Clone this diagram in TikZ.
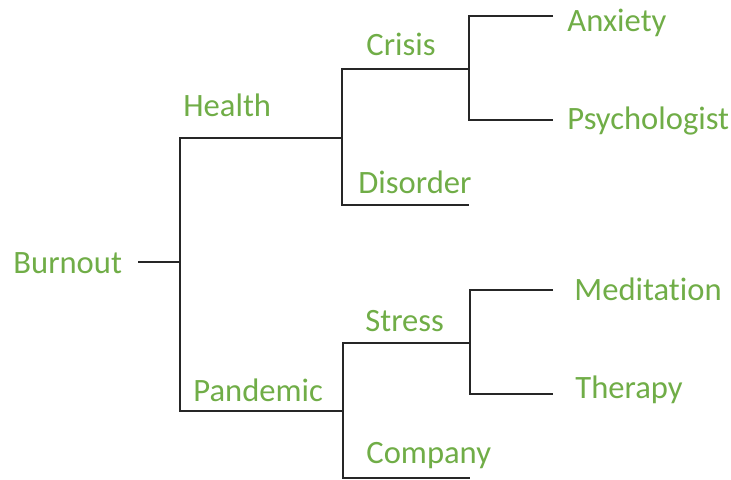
\documentclass[tikz,border=0pt]{standalone}
\usepackage{fontspec}
\setmainfont{Carlito}[Ligatures=NoCommon]
\definecolor{leafgreen}{RGB}{112,173,71}
\begin{document}
\begin{tikzpicture}[x=0.5pt, y=-0.5pt,
	word/.style = {anchor=base west, inner sep=0pt, text=leafgreen, font=\fontsize{16.3}{19}\selectfont},
	branch/.style = {draw=black!85, line width=0.7pt}]
	\useasboundingbox (0,0) rectangle (731,479);
	% words
	\node[word] (burnout) at (13,273) {Burnout};
	\node[word] (health) at (183,116) {Health};
	\node[word] (pandemic) at (193,401) {Pandemic};
	\node[word] (crisis) at (366,55) {Crisis};
	\node[word] (disorder) at (358,193) {Disorder};
	\node[word] (anxiety) at (567,31) {Anxiety};
	\node[word] (psychologist) at (567,129) {Psychologist};
	\node[word] (stress) at (365,331) {Stress};
	\node[word] (company) at (366,463) {Company};
	\node[word] (meditation) at (574,300) {Meditation};
	\node[word] (therapy) at (575,398) {Therapy};
	% line ends
	\coordinate (rootR) at (138,262);
	\coordinate (healthL) at (180,138);
	\coordinate (healthR) at (342,138);
	\coordinate (pandemicL) at (180,411);
	\coordinate (pandemicR) at (343,411);
	\coordinate (crisisL) at (342,69);
	\coordinate (crisisR) at (469,69);
	\coordinate (disorderL) at (342,205);
	\coordinate (disorderR) at (469,205);
	\coordinate (anxietyL) at (469,16);
	\coordinate (anxietyR) at (553,16);
	\coordinate (psychologistL) at (469,120);
	\coordinate (psychologistR) at (553,120);
	\coordinate (stressL) at (343,343);
	\coordinate (stressR) at (470,343);
	\coordinate (companyL) at (343,478);
	\coordinate (companyR) at (470,478);
	\coordinate (meditationL) at (470,290);
	\coordinate (meditationR) at (553,290);
	\coordinate (therapyL) at (470,394);
	\coordinate (therapyR) at (553,394);
	% branches
	\draw[branch] (rootR) -- (rootR -| healthL);
	\draw[branch] (healthR) -- (healthL) -- (pandemicL) -- (pandemicR);
	\draw[branch] (crisisR) -- (crisisL) -- (disorderL) -- (disorderR);
	\draw[branch] (anxietyR) -- (anxietyL) -- (psychologistL) -- (psychologistR);
	\draw[branch] (stressR) -- (stressL) -- (companyL) -- (companyR);
	\draw[branch] (meditationR) -- (meditationL) -- (therapyL) -- (therapyR);
\end{tikzpicture}
\end{document}
